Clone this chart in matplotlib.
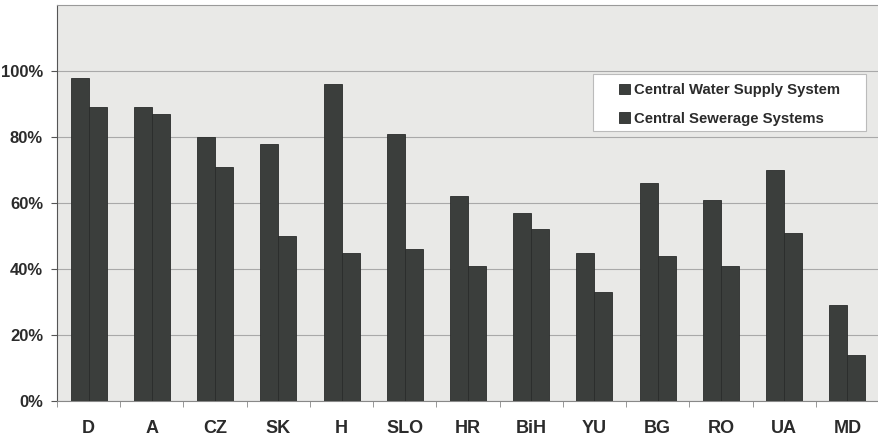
import numpy as np
import matplotlib.pyplot as plt
from matplotlib.patches import Rectangle
from matplotlib.ticker import FuncFormatter

countries = ["D", "A", "CZ", "SK", "H", "SLO", "HR", "BiH", "YU", "BG", "RO", "UA", "MD"]
water_supply = [98, 89, 80, 78, 96, 81, 62, 57, 45, 66, 61, 70, 29]   # %
sewerage = [89, 87, 71, 50, 45, 46, 41, 52, 33, 44, 41, 51, 14]       # %

plt.rcParams['font.family'] = ['Liberation Sans', 'DejaVu Sans']

fig = plt.figure(figsize=(8.79, 4.41), dpi=100)
ax = fig.add_axes([57 / 879, 40 / 441, 822 / 879, 396 / 441])
ax.set_facecolor("#e9e9e7")

x = np.arange(len(countries))
w = 0.285
bar_col = "#3b3e3c"
ax.bar(x - w / 2, water_supply, w, color=bar_col, edgecolor="#2a2c2b", lw=0.6,
       label="Central Water Supply System", zorder=3)
ax.bar(x + w / 2, sewerage, w, color=bar_col, edgecolor="#2a2c2b", lw=0.6,
       label="Central Sewerage Systems", zorder=3)

ax.set_xlim(-0.47, 12.5)
ax.set_ylim(0, 120)
ax.set_yticks(range(0, 101, 20))
ax.yaxis.set_major_formatter(FuncFormatter(lambda v, p: f"{int(v)}%"))
ax.set_xticks(x)
ax.set_xticklabels(countries)
ax.set_xticks(np.arange(-0.5, 12.6, 1), minor=True)
ax.tick_params(axis="x", which="major", length=0, pad=14)
ax.tick_params(axis="x", which="minor", length=4, color="#888888")
ax.tick_params(axis="y", length=4, color="#555555", pad=6)
for lab in ax.get_xticklabels():
    lab.set_fontsize(13)
    lab.set_fontweight("bold")
    lab.set_color("#2b2b2b")
for lab in ax.get_yticklabels():
    lab.set_fontsize(12)
    lab.set_fontweight("bold")
    lab.set_color("#2b2b2b")

ax.yaxis.grid(True, color="#a9a9a9", lw=0.8, zorder=0)
for s in ["top", "right"]:
    ax.spines[s].set_color("#9a9a9a")
    ax.spines[s].set_linestyle((0, (3, 1)))
ax.spines["left"].set_color("#555555")
ax.spines["bottom"].set_color("#888888")

# legend box (white, thin grey frame) drawn behind a frameless legend
ax.add_patch(Rectangle((593 / 879, 1 - 131 / 441), 273 / 879, 57 / 441,
                       transform=fig.transFigure, facecolor="white",
                       edgecolor="#bbbbbb", lw=0.8, zorder=5, clip_on=False))
leg = ax.legend(loc="upper left", bbox_to_anchor=(615 / 879, 1 - 79 / 441),
                bbox_transform=fig.transFigure,
                prop={"weight": "bold", "size": 10.7}, frameon=False,
                handlelength=0.7, handleheight=0.7, handletextpad=0.3,
                borderpad=0.3, labelspacing=0.95, borderaxespad=0)
leg.set_zorder(6)
for t in leg.get_texts():
    t.set_color("#2b2b2b")

fig.savefig("out.png", dpi=100, facecolor="white")
